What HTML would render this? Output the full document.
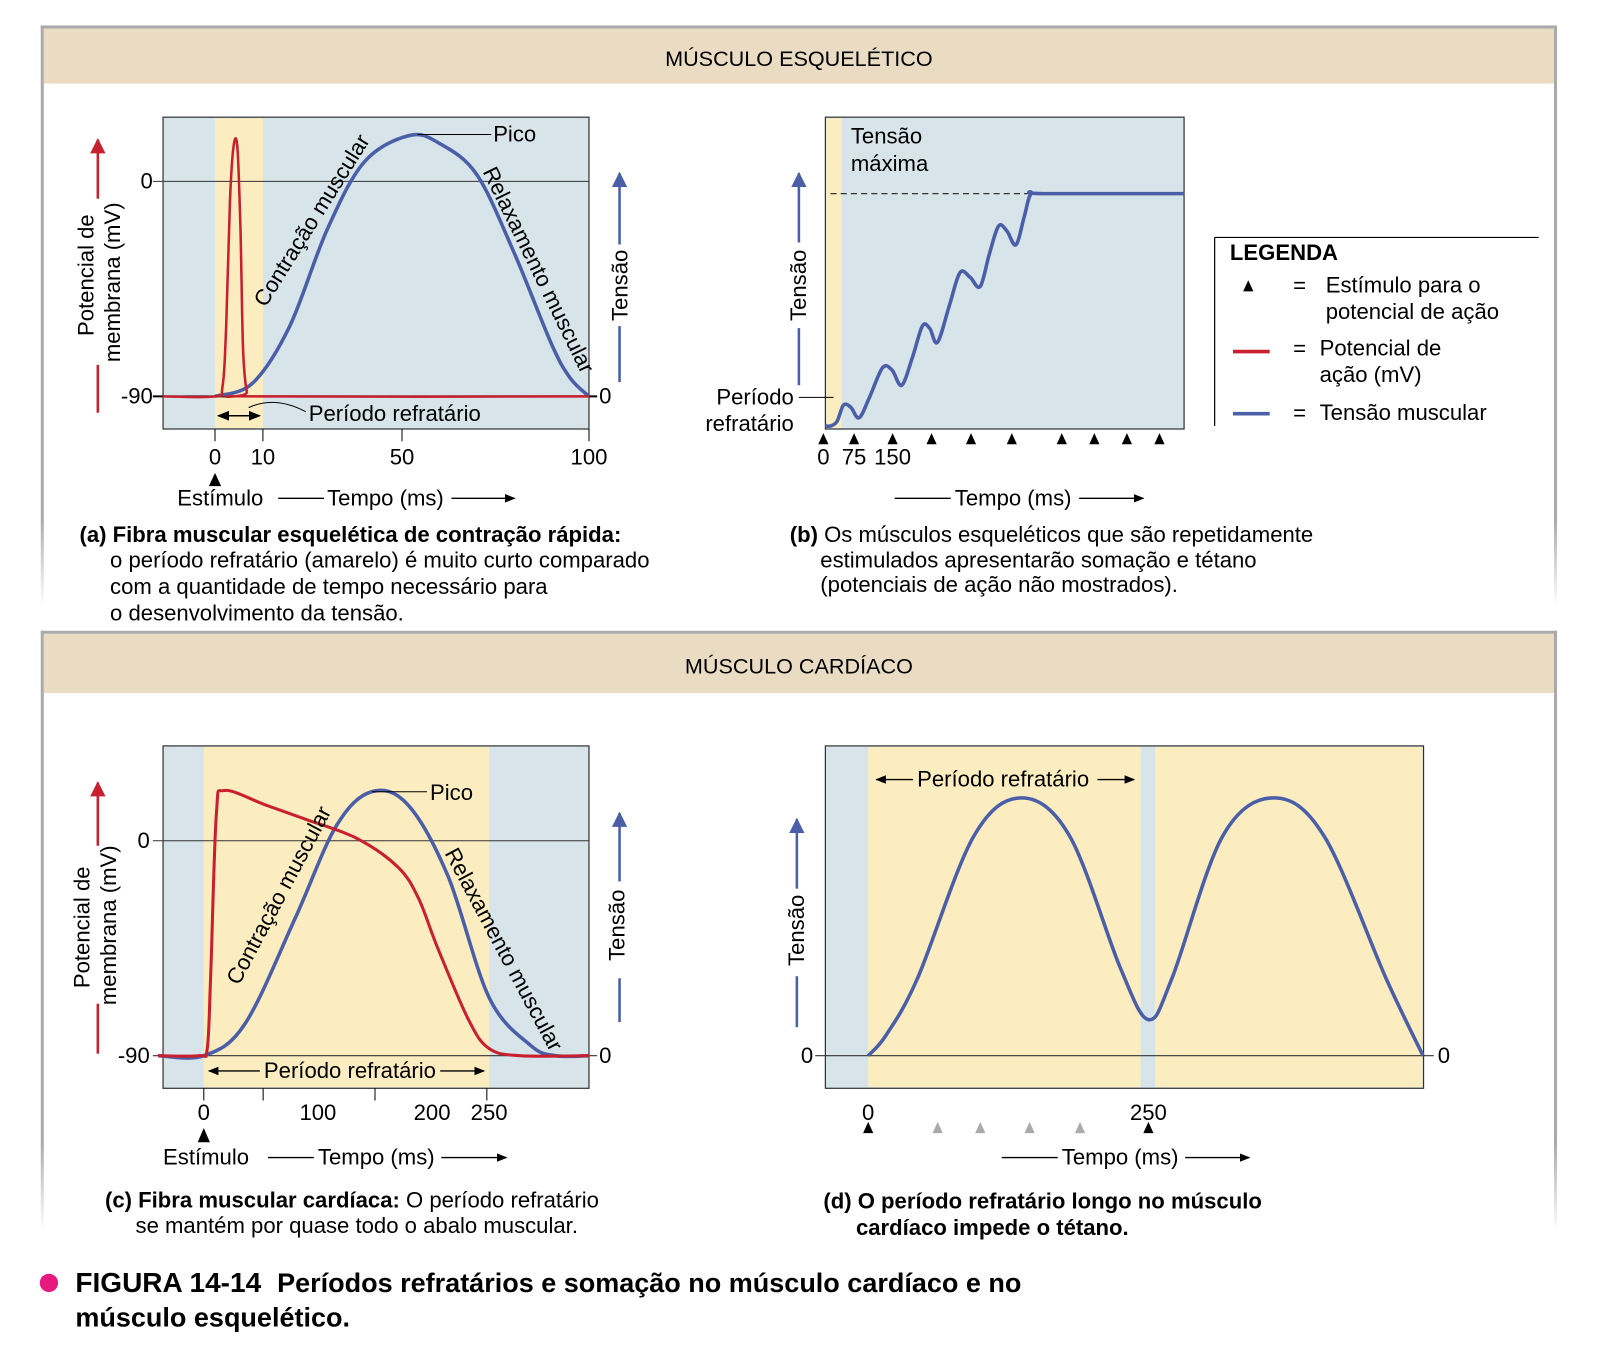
<!DOCTYPE html>
<html><head><meta charset="utf-8">
<style>
html,body{margin:0;padding:0;background:#fff;}
svg{display:block;font-family:"Liberation Sans",Arial,sans-serif;}
</style></head>
<body>
<svg id="fig" width="1600" height="1349" viewBox="0 0 1600 1349" xmlns="http://www.w3.org/2000/svg">
<defs>
<linearGradient id="fadeL" x1="0" y1="0" x2="0" y2="1"><stop offset="0" stop-color="#aaa"/><stop offset="0.85" stop-color="#aaa"/><stop offset="1" stop-color="#fff"/></linearGradient>
<marker id="ah" viewBox="0 0 10 10" refX="9" refY="5" markerWidth="8" markerHeight="8" orient="auto-start-reverse"><path d="M0,1 L10,5 L0,9 z" fill="#000"/></marker>
<marker id="ahr" viewBox="0 0 10 10" refX="9" refY="5" markerWidth="6" markerHeight="7" orient="auto"><path d="M0,0 L10,5 L0,10 z" fill="#c8202f"/></marker>
<marker id="ahb" viewBox="0 0 10 10" refX="9" refY="5" markerWidth="6" markerHeight="7" orient="auto"><path d="M0,0 L10,5 L0,10 z" fill="#4a5fa8"/></marker>
</defs>
<g transform="scale(1.019)">

<g>
<rect x="40" y="25" width="1488" height="3" fill="#aaa"/>
<rect x="40" y="25" width="3" height="570" fill="url(#fadeL)"/>
<rect x="1525" y="25" width="3" height="570" fill="url(#fadeL)"/>
<rect x="43" y="28" width="1482" height="54" fill="#e9dcc3"/>
<text x="784" y="65" font-size="21.2" text-anchor="middle">MÚSCULO ESQUELÉTICO</text>
</g>
<g>
<rect x="40" y="619" width="1488" height="3" fill="#aaa"/>
<rect x="40" y="619" width="3" height="590" fill="url(#fadeL)"/>
<rect x="1525" y="619" width="3" height="590" fill="url(#fadeL)"/>
<rect x="43" y="622" width="1482" height="58" fill="#e9dcc3"/>
<text x="784" y="661" font-size="21.2" text-anchor="middle">MÚSCULO CARDÍACO</text>
</g>

<g id="chartA"></g>
<g id="chartB"></g>
<g id="chartC"></g>
<g id="chartD"></g>

<g font-size="21.7">
<text transform="translate(92,270) rotate(-90)" text-anchor="middle">Potencial de</text>
<text transform="translate(118,277) rotate(-90)" text-anchor="middle">membrana (mV)</text>
<line x1="96" y1="405" x2="96" y2="358" stroke="#c8202f" stroke-width="2.5"/>
<line x1="96" y1="195" x2="96" y2="137" stroke="#c8202f" stroke-width="2.5" marker-end="url(#ahr)"/>
<text transform="translate(616,280) rotate(-90)" text-anchor="middle">Tensão</text>
<line x1="608" y1="375" x2="608" y2="320" stroke="#4a5fa8" stroke-width="2.5"/>
<line x1="608" y1="240" x2="608" y2="170" stroke="#4a5fa8" stroke-width="2.5" marker-end="url(#ahb)"/>
<text x="484" y="139">Pico</text>
<line x1="410" y1="132" x2="482" y2="132" stroke="#000" stroke-width="1"/>
<text transform="translate(312,220) rotate(-58)" text-anchor="middle">Contração muscular</text>
<text transform="translate(522,268) rotate(64)" text-anchor="middle">Relaxamento muscular</text>
<text x="303" y="413">Período refratário</text>
<path d="M244,400 Q270,388 300,404" fill="none" stroke="#000" stroke-width="1"/>
<line x1="214" y1="408" x2="255" y2="408" stroke="#000" stroke-width="1.5" marker-start="url(#ah)" marker-end="url(#ah)"/>
<text x="174" y="496">Estímulo</text>
<text x="321" y="496">Tempo (ms)</text>
<line x1="273" y1="489" x2="318" y2="489" stroke="#000" stroke-width="1.3"/>
<line x1="443" y1="489" x2="505" y2="489" stroke="#000" stroke-width="1.3" marker-end="url(#ah)"/>
<path d="M205,477 L211,464 L217,477 z" fill="#000"/>
<text x="78" y="532" font-weight="bold">(a) Fibra muscular esquelética de contração rápida:</text>
<text x="108" y="557">o período refratário (amarelo) é muito curto comparado</text>
<text x="108" y="583">com a quantidade de tempo necessário para</text>
<text x="108" y="609">o desenvolvimento da tensão.</text>
</g>

<g font-size="21.7">
<text x="835" y="141">Tensão</text>
<text x="835" y="168">máxima</text>
<text transform="translate(791,280) rotate(-90)" text-anchor="middle">Tensão</text>
<line x1="784" y1="378" x2="784" y2="322" stroke="#4a5fa8" stroke-width="2.5"/>
<line x1="784" y1="238" x2="784" y2="170" stroke="#4a5fa8" stroke-width="2.5" marker-end="url(#ahb)"/>
<text x="779" y="397" text-anchor="end">Período</text>
<text x="779" y="423" text-anchor="end">refratário</text>
<line x1="784" y1="390" x2="818" y2="390" stroke="#000" stroke-width="1"/>
<text x="937" y="496">Tempo (ms)</text>
<line x1="878" y1="489" x2="933" y2="489" stroke="#000" stroke-width="1.3"/>
<line x1="1059" y1="489" x2="1122" y2="489" stroke="#000" stroke-width="1.3" marker-end="url(#ah)"/>
<text x="775" y="532"><tspan font-weight="bold">(b)</tspan> Os músculos esqueléticos que são repetidamente</text>
<text x="805" y="557">estimulados apresentarão somação e tétano</text>
<text x="805" y="581">(potenciais de ação não mostrados).</text>
</g>

<g font-size="21.7">
<line x1="1192" y1="233" x2="1510" y2="233" stroke="#000" stroke-width="1.2"/>
<line x1="1192" y1="233" x2="1192" y2="418" stroke="#000" stroke-width="1.2"/>
<text x="1207" y="255" font-weight="bold">LEGENDA</text>
<path d="M1220,286 L1225,275 L1230,286 z" fill="#000"/>
<text x="1269" y="287">=</text>
<text x="1301" y="287">Estímulo para o</text>
<text x="1301" y="313">potencial de ação</text>
<line x1="1210" y1="345" x2="1246" y2="345" stroke="#c8202f" stroke-width="3.5"/>
<text x="1269" y="349">=</text>
<text x="1295" y="349">Potencial de</text>
<text x="1295" y="375">ação (mV)</text>
<line x1="1210" y1="406" x2="1246" y2="406" stroke="#4a5fa8" stroke-width="3.5"/>
<text x="1269" y="412">=</text>
<text x="1295" y="412">Tensão muscular</text>
</g>

<g font-size="21.7">
<text transform="translate(88,910) rotate(-90)" text-anchor="middle">Potencial de</text>
<text transform="translate(114,908) rotate(-90)" text-anchor="middle">membrana (mV)</text>
<line x1="96" y1="1034" x2="96" y2="985" stroke="#c8202f" stroke-width="2.5"/>
<line x1="96" y1="830" x2="96" y2="768" stroke="#c8202f" stroke-width="2.5" marker-end="url(#ahr)"/>
<text transform="translate(613,908) rotate(-90)" text-anchor="middle">Tensão</text>
<line x1="608" y1="1003" x2="608" y2="960" stroke="#4a5fa8" stroke-width="2.5"/>
<line x1="608" y1="865" x2="608" y2="798" stroke="#4a5fa8" stroke-width="2.5" marker-end="url(#ahb)"/>
<text x="422" y="785">Pico</text>
<line x1="365" y1="777" x2="419" y2="777" stroke="#000" stroke-width="1"/>
<text transform="translate(280,882) rotate(-62)" text-anchor="middle">Contração muscular</text>
<text transform="translate(488,935) rotate(62)" text-anchor="middle">Relaxamento muscular</text>
<text x="259" y="1058">Período refratário</text>
<line x1="255" y1="1051" x2="205" y2="1051" stroke="#000" stroke-width="1.3" marker-end="url(#ah)"/>
<line x1="432" y1="1051" x2="475" y2="1051" stroke="#000" stroke-width="1.3" marker-end="url(#ah)"/>
<path d="M194,1121 L200,1107 L206,1121 z" fill="#000"/>
<text x="160" y="1143">Estímulo</text>
<text x="312" y="1143">Tempo (ms)</text>
<line x1="263" y1="1136" x2="308" y2="1136" stroke="#000" stroke-width="1.3"/>
<line x1="433" y1="1136" x2="497" y2="1136" stroke="#000" stroke-width="1.3" marker-end="url(#ah)"/>
<text x="103" y="1185"><tspan font-weight="bold">(c) Fibra muscular cardíaca:</tspan> O período refratário</text>
<text x="133" y="1210">se mantém por quase todo o abalo muscular.</text>
</g>

<g font-size="21.7">
<text transform="translate(789,913) rotate(-90)" text-anchor="middle">Tensão</text>
<line x1="782" y1="1008" x2="782" y2="958" stroke="#4a5fa8" stroke-width="2.5"/>
<line x1="782" y1="872" x2="782" y2="804" stroke="#4a5fa8" stroke-width="2.5" marker-end="url(#ahb)"/>
<text x="900" y="772">Período refratário</text>
<line x1="896" y1="765" x2="860" y2="765" stroke="#000" stroke-width="1.3" marker-end="url(#ah)"/>
<line x1="1077" y1="765" x2="1113" y2="765" stroke="#000" stroke-width="1.3" marker-end="url(#ah)"/>
<text x="1042" y="1143">Tempo (ms)</text>
<line x1="983" y1="1136" x2="1038" y2="1136" stroke="#000" stroke-width="1.3"/>
<line x1="1163" y1="1136" x2="1226" y2="1136" stroke="#000" stroke-width="1.3" marker-end="url(#ah)"/>
<text x="808" y="1186" font-weight="bold">(d) O período refratário longo no músculo</text>
<text x="840" y="1212" font-weight="bold">cardíaco impede o tétano.</text>
</g>

<g>
<circle cx="48" cy="1259" r="9" fill="#e6197f"/>
<text x="74" y="1268" font-size="27.5" font-weight="bold">FIGURA 14-14 <tspan dx="8" font-size="26.5">Períodos refratários e somação no músculo cardíaco e no</tspan></text>
<text x="74" y="1302" font-size="26.5" font-weight="bold">músculo esquelético.</text>
</g>
</g>
</svg>

<script>
// ---------- DATA ----------
const aApTime = [-14, 0, 2, 3, 4, 5, 6, 6.8, 7.5, 8.5, 10, 100];
const aApMv = [-90, -90, -86, -60, -8, 15, 14, -20, -70, -88, -90, -90];
const aTwTime = [0, 10, 20, 30, 40, 52, 60, 70, 80, 90, 95, 100];
const aTwTension = [0, 5, 27, 64, 90, 100, 97, 85, 55, 20, 7, 0];
const aTicks = [0, 10, 50, 100];
const bTime = [4, 16, 30, 44, 60, 78, 100, 129, 150, 171, 195, 216, 232, 249, 275, 298, 320, 342, 362, 382, 400, 420, 438, 453, 480, 787];
const bTension = [0, 0, 2, 9, 8, 3.5, 12, 25, 24, 17.5, 30, 43, 42, 36, 52, 66, 64, 60, 74, 86, 84, 78, 90, 100, 100, 100];
const bStimuli = [0, 67, 151, 236, 322, 411, 520, 591, 662, 733];
const bTickLabels = ["0", "75", "150"];
const bTickTimes = [0, 67, 151];
const cApTime = [-40, -4, 3, 6, 11, 18, 54, 89, 134, 170, 188, 205, 232, 250, 277, 338];
const cApMv = [-90, -90, -87, -57, 11, 21, 15, 9, 1, -11, -24, -45, -75, -87, -90, -90];
const cTwTime = [-40, 0, 36, 80, 116, 147, 179, 214, 250, 286, 308, 338];
const cTwTension = [0, 0, 12, 52, 87, 100, 95, 68, 22, 4, 0, 0];
const cTicks = [0, 100, 200, 250];
const cMinorTicks = [52, 150, 248];
const dTime = [0, 16, 44, 94, 137, 180, 225, 250, 271, 316, 362, 407, 462, 495];
const dTension = [0, 8, 30, 85, 100, 85, 34, 14, 30, 85, 100, 85, 30, 0];
const dStimBlack = [0, 250];
const dStimGray = [62, 100, 144, 189];
const dTicks = [0, 250];

// ---------- HELPERS ----------
const NS = "http://www.w3.org/2000/svg";
function mk(parent, tag, attrs) {
  const e = document.createElementNS(NS, tag);
  for (const k in attrs) e.setAttribute(k, attrs[k]);
  parent.appendChild(e);
  return e;
}
function smooth(pts) {
  let d = "M" + pts[0][0].toFixed(1) + "," + pts[0][1].toFixed(1);
  for (let i = 0; i < pts.length - 1; i++) {
    const p0 = pts[Math.max(0, i - 1)], p1 = pts[i], p2 = pts[i + 1], p3 = pts[Math.min(pts.length - 1, i + 2)];
    const c1 = [p1[0] + (p2[0] - p0[0]) / 6, p1[1] + (p2[1] - p0[1]) / 6];
    const c2 = [p2[0] - (p3[0] - p1[0]) / 6, p2[1] - (p3[1] - p1[1]) / 6];
    d += " C" + c1[0].toFixed(1) + "," + c1[1].toFixed(1) + " " + c2[0].toFixed(1) + "," + c2[1].toFixed(1) + " " + p2[0].toFixed(1) + "," + p2[1].toFixed(1);
  }
  return d;
}
function series(xs, ys, fx, fy) { return xs.map((t, i) => [fx(t), fy(ys[i])]); }
const BLUEBG = "#d7e5eb", YEL = "#fcedc0", RED = "#c8202f", BLUE = "#4a5fa8", FS = 21.7;

// ---------- CHART A ----------
(function () {
  const g = document.getElementById("chartA");
  const x = t => 211 + 3.67 * t;
  const yMv = v => 389 - (v + 90) * 2.344;
  const yT = v => 389 - v * 2.56;
  let e = mk(g, "rect", {x: 160, y: 115, width: 418, height: 306, fill: BLUEBG, stroke: "#333", "stroke-width": 1.2});
  
  
  e = mk(g, "rect", {x: x(0), y: 116, width: 47, height: 304, fill: YEL});
  
  
  mk(g, "line", {x1: 150, y1: yMv(0), x2: 578, y2: yMv(0), stroke: "#333", "stroke-width": 1});
  mk(g, "line", {x1: 150, y1: yMv(-90), x2: 586, y2: yMv(-90), stroke: "#000", "stroke-width": 2});
  e = mk(g, "text", {x: 150, y: yMv(0) + 7, "text-anchor": "end", "font-size": FS}); e.textContent = "0";
  
  e = mk(g, "text", {x: 150, y: yMv(-90) + 7, "text-anchor": "end", "font-size": FS}); e.textContent = "-90";
  
  e = mk(g, "text", {x: 588, y: yMv(-90) + 7, "font-size": FS}); e.textContent = "0";
  
  aTicks.forEach(t => {
    const px = t === 10 ? 258 : x(t);
    mk(g, "line", {x1: px, y1: 421, x2: px, y2: 433, stroke: "#000", "stroke-width": 1});
    const tx = mk(g, "text", {x: px, y: 456, "text-anchor": "middle", "font-size": FS});
    tx.textContent = t;
    
    
  });
  e = mk(g, "path", {d: smooth(series(aTwTime, aTwTension, x, yT)), fill: "none", stroke: BLUE, "stroke-width": 3.5});
  
  
  e = mk(g, "path", {d: smooth(series(aApTime, aApMv, x, yMv)), fill: "none", stroke: RED, "stroke-width": 2.5});
  
  
})();

// ---------- CHART B ----------
(function () {
  const g = document.getElementById("chartB");
  const x = t => 808 + 0.45 * t;
  const y = v => 418 - v * 2.28;
  let e = mk(g, "rect", {x: 810, y: 115, width: 352, height: 306, fill: BLUEBG, stroke: "#333", "stroke-width": 1.2});
  
  
  e = mk(g, "rect", {x: 811, y: 116, width: 15, height: 304, fill: YEL});
  
  
  mk(g, "line", {x1: 815, y1: y(100), x2: 1012, y2: y(100), stroke: "#333", "stroke-width": 1.2, "stroke-dasharray": "6,4"});
  e = mk(g, "path", {d: smooth(series(bTime, bTension, x, y)), fill: "none", stroke: BLUE, "stroke-width": 3.5});
  
  
  bStimuli.forEach(t => {
    const px = x(t);
    const tr = mk(g, "path", {d: `M${px - 5},436 L${px},425 L${px + 5},436 z`, fill: "#000"});
    
    
  });
  bTickTimes.forEach((t, i) => {
    const tx = mk(g, "text", {x: x(t), y: 456, "text-anchor": "middle", "font-size": FS});
    tx.textContent = bTickLabels[i];
    
    
  });
})();

// ---------- CHART C ----------
(function () {
  const g = document.getElementById("chartC");
  const x = t => 200 + 1.12 * t;
  const yMv = v => 1036 - (v + 90) * 2.344;
  const yT = v => 1036 - v * 2.59;
  let e = mk(g, "rect", {x: 160, y: 732, width: 418, height: 336, fill: BLUEBG, stroke: "#333", "stroke-width": 1.2});
  
  
  e = mk(g, "rect", {x: x(0), y: 733, width: x(250) - x(0), height: 334, fill: YEL});
  
  
  mk(g, "line", {x1: 150, y1: yMv(0), x2: 578, y2: yMv(0), stroke: "#333", "stroke-width": 1});
  mk(g, "line", {x1: 150, y1: yMv(-90), x2: 586, y2: yMv(-90), stroke: "#333", "stroke-width": 1});
  e = mk(g, "text", {x: 147, y: yMv(0) + 7, "text-anchor": "end", "font-size": FS}); e.textContent = "0";
  
  e = mk(g, "text", {x: 147, y: yMv(-90) + 7, "text-anchor": "end", "font-size": FS}); e.textContent = "-90";
  
  e = mk(g, "text", {x: 588, y: yMv(-90) + 7, "font-size": FS}); e.textContent = "0";
  
  mk(g, "line", {x1: x(0), y1: 1068, x2: x(0), y2: 1080, stroke: "#000"});
  cMinorTicks.forEach(t => mk(g, "line", {x1: x(t), y1: 1068, x2: x(t), y2: 1080, stroke: "#000"}));
  cTicks.forEach(t => {
    const tx = mk(g, "text", {x: x(t), y: 1099, "text-anchor": "middle", "font-size": FS});
    tx.textContent = t;
    
    
  });
  e = mk(g, "path", {d: smooth(series(cTwTime, cTwTension, x, yT)), fill: "none", stroke: BLUE, "stroke-width": 3.5});
  
  
  e = mk(g, "path", {d: smooth(series(cApTime, cApMv, x, yMv)), fill: "none", stroke: RED, "stroke-width": 3});
  
  
})();

// ---------- CHART D ----------
(function () {
  const g = document.getElementById("chartD");
  const x = t => 852 + 1.1 * t;
  const y = v => 1036 - v * 2.53;
  let e = mk(g, "rect", {x: 810, y: 732, width: 587, height: 336, fill: BLUEBG, stroke: "#333", "stroke-width": 1.2});
  
  
  e = mk(g, "rect", {x: x(0), y: 733, width: x(243) - x(0), height: 334, fill: YEL});
  
  
  e = mk(g, "rect", {x: x(256), y: 733, width: 1396 - x(256), height: 334, fill: YEL});
  
  
  mk(g, "line", {x1: 800, y1: y(0), x2: 1407, y2: y(0), stroke: "#333", "stroke-width": 1});
  e = mk(g, "text", {x: 798, y: y(0) + 7, "text-anchor": "end", "font-size": FS}); e.textContent = "0";
  
  e = mk(g, "text", {x: 1411, y: y(0) + 7, "font-size": FS}); e.textContent = "0";
  
  dTicks.forEach(t => {
    const tx = mk(g, "text", {x: x(t), y: 1099, "text-anchor": "middle", "font-size": FS});
    tx.textContent = t;
    
    
  });
  e = mk(g, "path", {d: smooth(series(dTime, dTension, x, y)), fill: "none", stroke: BLUE, "stroke-width": 3.5});
  
  
  dStimBlack.forEach(t => {
    const px = x(t);
    const tr = mk(g, "path", {d: `M${px - 5},1112 L${px},1101 L${px + 5},1112 z`, fill: "#000"});
    
    
  });
  dStimGray.forEach(t => {
    const px = x(t);
    const tr = mk(g, "path", {d: `M${px - 5},1112 L${px},1101 L${px + 5},1112 z`, fill: "#aaa"});
    
    
  });
})();
</script>
</body></html>
